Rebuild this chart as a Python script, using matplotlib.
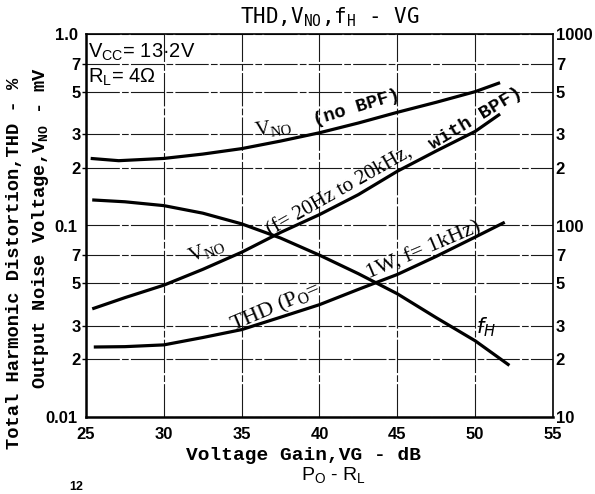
import matplotlib
matplotlib.use('Agg')
import matplotlib.pyplot as plt
from matplotlib.ticker import FixedLocator, FixedFormatter, NullLocator

# ---------------- data ----------------
vg_nobpf = [25.3, 27.1, 30, 32.5, 35, 37.5, 40, 42.5, 45, 47.5, 50, 51.6]
vno_nobpf = [0.224, 0.218, 0.224, 0.236, 0.252, 0.276, 0.305, 0.343, 0.39, 0.44, 0.50, 0.557]

vg_bpf = [25.4, 27.5, 30, 32.5, 35, 37.5, 40, 42.5, 45, 47.5, 50, 51.6]
vno_bpf = [0.0367, 0.042, 0.0488, 0.059, 0.0725, 0.092, 0.114, 0.145, 0.192, 0.245, 0.31, 0.382]

vg_thd = [25.5, 27.5, 30, 32.5, 35, 37.5, 40, 42.5, 45, 47.5, 50, 51.9]
thd = [0.0232, 0.0233, 0.0238, 0.026, 0.0286, 0.0332, 0.0386, 0.0464, 0.0555, 0.069, 0.087, 0.104]

vg_fh = [25.4, 27.5, 30, 32.5, 35, 37.5, 40, 42.5, 45, 47.5, 50, 52.2]
fh_khz = [136, 133, 127, 116, 102, 86, 70, 56, 44, 33, 25, 18.6]

x_ticks = [25, 30, 35, 40, 45, 50, 55]
x_ticklabels = ['25', '30', '35', '40', '45', '50', '55']
left_major = [0.01, 0.1, 1.0]
left_major_labels = ['0.01', '0.1', '1.0']
left_minor = [0.02, 0.03, 0.05, 0.07, 0.2, 0.3, 0.5, 0.7]
left_minor_labels = ['2', '3', '5', '7', '2', '3', '5', '7']
right_major = [10, 100, 1000]
right_major_labels = ['10', '100', '1000']
right_minor = [20, 30, 50, 70, 200, 300, 500, 700]
right_minor_labels = ['2', '3', '5', '7', '2', '3', '5', '7']

# ---------------- figure ----------------
W, H = 595, 494
fig = plt.figure(figsize=(W / 100, H / 100), dpi=100)
fig.patch.set_facecolor('white')


def fx(x):
    return x / W


def fy(y):
    return 1 - y / H


L, R, T, B = 86, 553, 34, 417
ax = fig.add_axes([fx(L), fy(B), (R - L) / W, (B - T) / H])
ax.set_yscale('log')
ax.set_xlim(25, 55)
ax.set_ylim(0.01, 1.0)

ax2 = ax.twinx()
ax2.set_yscale('log')
ax2.set_ylim(10, 1000)
for s in ax2.spines.values():
    s.set_visible(False)

# ticks
ax.xaxis.set_major_locator(FixedLocator(x_ticks))
ax.xaxis.set_major_formatter(FixedFormatter(x_ticklabels))
ax.xaxis.set_minor_locator(NullLocator())
ax.yaxis.set_major_locator(FixedLocator(left_major))
ax.yaxis.set_major_formatter(FixedFormatter(left_major_labels))
ax.yaxis.set_minor_locator(FixedLocator(left_minor))
ax.yaxis.set_minor_formatter(FixedFormatter(left_minor_labels))
ax2.yaxis.set_major_locator(FixedLocator(right_major))
ax2.yaxis.set_major_formatter(FixedFormatter(right_major_labels))
ax2.yaxis.set_minor_locator(FixedLocator(right_minor))
ax2.yaxis.set_minor_formatter(FixedFormatter(right_minor_labels))

ax.tick_params(axis='x', which='major', length=0, pad=7)
ax.tick_params(axis='y', which='major', length=0, pad=6)
ax.tick_params(axis='y', which='minor', length=3, width=1, pad=1, direction='out')
ax2.tick_params(axis='y', which='both', length=0, pad=2)

tickfont = dict(family='Liberation Sans', weight='bold', size=12)
for lab in (ax.get_xticklabels() + ax.get_yticklabels(which='both')
            + ax2.get_yticklabels(which='both')):
    lab.set_fontfamily(tickfont['family'])
    lab.set_fontweight(tickfont['weight'])
    lab.set_fontsize(tickfont['size'])

# grid
ax.grid(True, which='both', axis='both', color='#1a1a1a', lw=0.8,
        ls=(0, (30, 2, 6, 2)))
ax.set_axisbelow(True)

# spines
ax.spines['left'].set_linewidth(1.8)
ax.spines['bottom'].set_linewidth(1.8)
ax.spines['top'].set_linewidth(1.2)
ax.spines['right'].set_linewidth(1.2)

# curves
lw = 2.3
ax.plot(vg_nobpf, vno_nobpf, color='black', lw=lw, zorder=4, solid_capstyle='butt')
ax.plot(vg_bpf, vno_bpf, color='black', lw=lw, zorder=4, solid_capstyle='butt')
ax.plot(vg_thd, thd, color='black', lw=lw, zorder=4, solid_capstyle='butt')
ax2.plot(vg_fh, fh_khz, color='black', lw=lw, zorder=4, solid_capstyle='butt')

# ---------------- texts ----------------
mono = 'Liberation Mono'
serif = 'Liberation Serif'
sans = 'Liberation Sans'

fig.text(fx(330), fy(17), r'THD,$\mathregular{V_{NO}}$,$\mathregular{f_H}$ - VG',
         family='DejaVu Sans Mono', fontsize=15, ha='center', va='center')

fig.text(fx(88), fy(52), r'$\mathregular{V_{CC}}$= 13·2V', family=sans,
         fontsize=14.5, ha='left', va='center')
fig.text(fx(88), fy(77), r'$\mathregular{R_L}$= 4Ω', family=sans,
         fontsize=14.5, ha='left', va='center')

fig.text(fx(273), fy(128), r'$\mathregular{V_{NO}}$', family=serif, fontsize=15,
         rotation=8, ha='center', va='center')
fig.text(fx(357), fy(108), '(no BPF)', family=mono, weight='bold', fontsize=13.5,
         rotation=17, ha='center', va='center')

fig.text(fx(271), fy(236), '(f= 20Hz to 20kHz,', family=serif, fontsize=15,
         rotation=29.5, rotation_mode='anchor', ha='left', va='baseline')
fig.text(fx(433), fy(150), 'with BPF)', family=mono, weight='bold', fontsize=14,
         rotation=31, rotation_mode='anchor', ha='left', va='baseline')

fig.text(fx(207), fy(250), r'$\mathregular{V_{NO}}$', family=serif, fontsize=15,
         rotation=22, ha='center', va='center')

fig.text(fx(233), fy(331), r'THD (P$\mathregular{_O}$=', family=serif, fontsize=16,
         rotation=23, rotation_mode='anchor', ha='left', va='baseline')
fig.text(fx(369), fy(279), '1W, f= 1kHz)', family=serif, fontsize=16,
         rotation=23, rotation_mode='anchor', ha='left', va='baseline')

fig.text(fx(486), fy(327), r'$f_H$', family=serif, fontsize=15,
         ha='center', va='center')

fig.text(fx(303), fy(455), 'Voltage Gain,VG - dB', family=mono, weight='bold',
         fontsize=14, ha='center', va='center')
fig.text(fx(15), fy(263), 'Total Harmonic Distortion,THD - %', family=mono,
         weight='bold', fontsize=13.5, rotation=90, ha='center', va='center')
fig.text(fx(41), fy(228), r'Output Noise Voltage,$\mathregular{V_{NO}}$ - mV',
         family=mono, weight='bold', fontsize=13.5, rotation=90,
         ha='center', va='center')

fig.text(fx(334), fy(475), r'$\mathregular{P_O}$ - $\mathregular{R_L}$', family=sans,
         fontsize=14, ha='center', va='center')
fig.text(fx(76), fy(493), '12', family=sans, weight='bold', fontsize=9,
         ha='center', va='bottom')

fig.savefig('out.png', dpi=100)
